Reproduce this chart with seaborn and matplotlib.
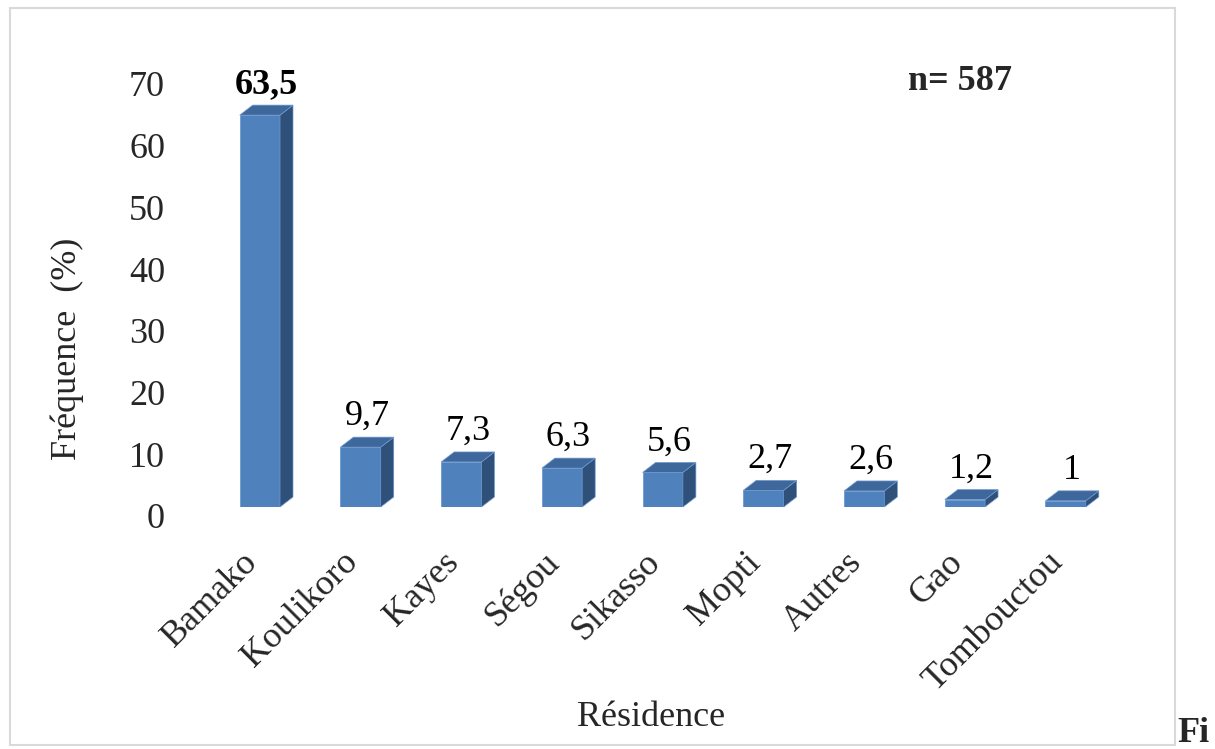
import matplotlib
matplotlib.use("Agg")
import matplotlib.pyplot as plt
import matplotlib.transforms as mtransforms
from matplotlib.patches import Polygon, Rectangle
import seaborn as sns

# Residence of respondents (n = 587), share in percent
categories = ["Bamako", "Koulikoro", "Kayes", "Ségou", "Sikasso",
              "Mopti", "Autres", "Gao", "Tombouctou"]
values = [63.5, 9.7, 7.3, 6.3, 5.6, 2.7, 2.6, 1.2, 1]
value_labels = ["63,5", "9,7", "7,3", "6,3", "5,6", "2,7", "2,6", "1,2", "1"]
y_ticks = [0, 10, 20, 30, 40, 50, 60, 70]

FRONT = "#4F81BD"
TOP = "#3E689C"
SIDE = "#2F5079"
EDGE = "#6E9AD0"
FS = 26

sns.set_theme(style="white")
plt.rcParams["font.family"] = ["Liberation Serif", "DejaVu Serif"]

W, H, DPI = 1215, 749, 100
fig = plt.figure(figsize=(W / DPI, H / DPI), dpi=DPI)
fig.patch.set_facecolor("white")

# axes placed in pixel terms
left, right, bottom_px, top_px = 209.5, 1116, 507, 75
ax = fig.add_axes([left / W, 1 - bottom_px / H, (right - left) / W, (bottom_px - top_px) / H])
ax.set_facecolor("none")

sns.barplot(x=categories, y=values, color=FRONT, width=0.4, saturation=1,
            ax=ax, edgecolor=EDGE, linewidth=0.6)
ax.set_xlim(-0.5, len(categories) - 0.5)
ax.set_ylim(0, 70)

# depth of the pseudo-3D extrusion, in pixels converted to data units
px_per_x = (right - left) / len(categories)
px_per_y = (bottom_px - top_px) / 70
dx = 13 / px_per_x
dy = 10 / px_per_y

for p in ax.patches:
    x0 = p.get_x()
    x1 = x0 + p.get_width()
    yb = p.get_y()
    yt = yb + p.get_height()
    top = Polygon([(x0, yt), (x1, yt), (x1 + dx, yt + dy), (x0 + dx, yt + dy)],
                  closed=True, facecolor=TOP, edgecolor=EDGE, linewidth=0.5,
                  clip_on=False, zorder=p.get_zorder())
    side = Polygon([(x1, yb), (x1, yt), (x1 + dx, yt + dy), (x1 + dx, yb + dy)],
                   closed=True, facecolor=SIDE, edgecolor=EDGE, linewidth=0.5,
                   clip_on=False, zorder=p.get_zorder())
    ax.add_patch(side)
    ax.add_patch(top)

# value labels above each bar
for i, (v, lab) in enumerate(zip(values, value_labels)):
    ax.annotate(lab, (i + dx / 2, v + dy), xytext=(0, 3), textcoords="offset points",
                ha="center", va="bottom", fontsize=FS,
                fontweight="bold" if i == 0 else "normal", color="black")

fig.text(960 / W, 1 - 81 / H, "n= 587", fontsize=FS,
         fontweight="bold", ha="center", va="center")

for s in ax.spines.values():
    s.set_visible(False)
ax.grid(False)
ax.set_yticks(y_ticks)
ax.set_yticklabels([str(t) for t in y_ticks], fontsize=FS)
ax.tick_params(axis="y", length=0, pad=32)
ax.tick_params(axis="x", length=0, pad=20)
shift = mtransforms.ScaledTranslation(0, -9 / DPI, fig.dpi_scale_trans)
for lab in ax.get_yticklabels():
    lab.set_transform(lab.get_transform() + shift)
    lab.set_horizontalalignment("right")

xshift = mtransforms.ScaledTranslation(-19 / DPI, -11 / DPI, fig.dpi_scale_trans)
for lab in ax.get_xticklabels():
    lab.set_rotation(45)
    lab.set_ha("right")
    lab.set_va("top")
    lab.set_rotation_mode("anchor")
    lab.set_fontsize(FS)
    lab.set_transform(lab.get_transform() + xshift)

ax.set_xlabel("")
ax.set_ylabel("")
fig.text(651 / W, 1 - 718 / H, "Résidence", fontsize=FS, ha="center", va="center")
fig.text(67 / W, 1 - 349 / H, "Fréquence  (%)", fontsize=FS, rotation=90,
         ha="center", va="center")

# chart frame
fig.patches.append(Rectangle((10 / W, 1 - 745 / H), (1175 - 10) / W, (745 - 8) / H,
                             transform=fig.transFigure, fill=False,
                             edgecolor="#D9D9D9", linewidth=1.5))
fig.text(1193 / W, 1 - 733 / H, "Fi", fontsize=FS, fontweight="bold",
         ha="center", va="center")

fig.savefig("out.png", dpi=DPI)
